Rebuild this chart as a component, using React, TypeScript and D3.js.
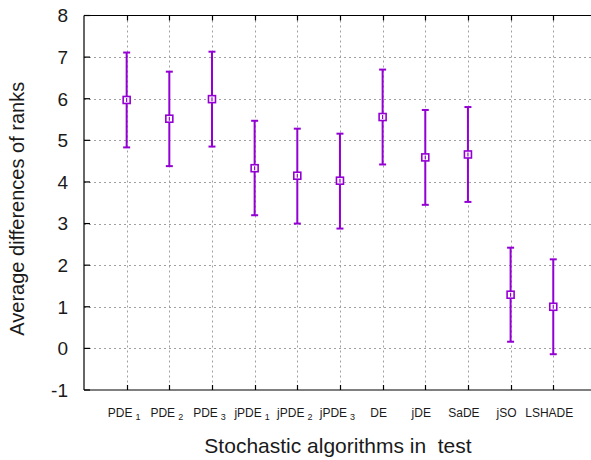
import { useEffect, useRef } from "react";
import * as d3 from "d3";

const names = ["PDE", "PDE", "PDE", "jPDE", "jPDE", "jPDE", "DE", "jDE", "SaDE", "jSO", "LSHADE"];
const subs = ["1", "2", "3", "1", "2", "3", "", "", "", "", ""];
const means = [5.97, 5.52, 5.99, 4.33, 4.15, 4.03, 5.56, 4.59, 4.66, 1.29, 1.0];
const lows = [4.83, 4.38, 4.85, 3.2, 3.0, 2.88, 4.42, 3.45, 3.52, 0.16, -0.14];
const highs = [7.11, 6.65, 7.13, 5.47, 5.28, 5.16, 6.7, 5.73, 5.8, 2.42, 2.14];
const yTicks = [-1, 0, 1, 2, 3, 4, 5, 6, 7, 8];

const W = 591;
const H = 460;
const color = "#9400d3";
const font = "Liberation Sans, Arial, sans-serif";

function App() {
  const ref = useRef<SVGSVGElement>(null);

  useEffect(() => {
    const svg = d3.select(ref.current);
    svg.selectAll("*").remove();

    const left = 84;
    const top = 15.5;
    const bottom = 390;
    const step = 42.66;

    const x = d3.scaleLinear().domain([0, 12]).range([left, left + 12 * step]);
    const y = d3.scaleLinear().domain([-1, 8]).range([bottom, top]);
    const idx = names.map((_, i) => i + 1);

    // grid
    const grid = svg.append("g").attr("stroke", "#a0a0a0").attr("stroke-width", 1).attr("stroke-dasharray", "2,3");
    yTicks.slice(1, -1).forEach((t) => {
      grid.append("line").attr("x1", left).attr("x2", W).attr("y1", Math.round(y(t)) + 0.5).attr("y2", Math.round(y(t)) + 0.5);
    });
    idx.forEach((i) => {
      grid.append("line").attr("x1", Math.round(x(i)) + 0.5).attr("x2", Math.round(x(i)) + 0.5).attr("y1", top).attr("y2", bottom);
    });

    // frame
    const frame = svg.append("g").attr("stroke", "#000").attr("stroke-width", 1.2);
    frame.append("line").attr("x1", left).attr("x2", W).attr("y1", top).attr("y2", top);
    frame.append("line").attr("x1", left).attr("x2", W).attr("y1", bottom).attr("y2", bottom);
    frame.append("line").attr("x1", left).attr("x2", left).attr("y1", top).attr("y2", bottom);

    // ticks
    yTicks.forEach((t) => {
      frame.append("line").attr("x1", left).attr("x2", left + 6).attr("y1", y(t)).attr("y2", y(t));
      svg.append("text").attr("x", 68).attr("y", y(t) + 6.8).attr("text-anchor", "end")
        .attr("font-family", font).attr("font-size", 19).attr("fill", "#1a1a1a").text(t);
    });
    idx.forEach((i) => {
      const xi = Math.round(x(i)) + 0.5;
      frame.append("line").attr("x1", xi).attr("x2", xi).attr("y1", bottom).attr("y2", bottom - 5);
      frame.append("line").attr("x1", xi).attr("x2", xi).attr("y1", top).attr("y2", top + 5);
      const hasSub = subs[i - 1] !== "";
      const t = svg.append("text").attr("x", x(i) + (hasSub ? -2.5 : -4)).attr("y", 417).attr("text-anchor", "middle")
        .attr("font-family", font).attr("font-size", 12).attr("fill", "#1a1a1a");
      t.append("tspan").text(names[i - 1]);
      if (hasSub) {
        t.append("tspan").attr("dx", 3).attr("dy", 3).attr("font-size", 9).text(subs[i - 1]);
      }
    });

    // error bars
    const g = svg.append("g").attr("stroke", color).attr("fill", "none");
    idx.forEach((i) => {
      const xi = x(i);
      g.append("line").attr("x1", xi).attr("x2", xi).attr("y1", y(lows[i - 1])).attr("y2", y(highs[i - 1])).attr("stroke-width", 2);
      [lows[i - 1], highs[i - 1]].forEach((v) => {
        g.append("line").attr("x1", xi - 3.5).attr("x2", xi + 3.5).attr("y1", y(v)).attr("y2", y(v)).attr("stroke-width", 2);
      });
      g.append("rect").attr("x", xi - 3.5).attr("y", y(means[i - 1]) - 3.5).attr("width", 7).attr("height", 7)
        .attr("fill", "#fff").attr("stroke-width", 1.6);
      g.append("line").attr("x1", xi).attr("x2", xi).attr("y1", y(means[i - 1]) - 2).attr("y2", y(means[i - 1]) + 2).attr("stroke-width", 1.2);
    });

    // titles
    svg.append("text").attr("transform", `translate(24, ${(top + bottom) / 2 + 6}) rotate(-90)`).attr("text-anchor", "middle")
      .attr("font-family", font).attr("font-size", 20).attr("fill", "#1a1a1a").text("Average differences of ranks");
    svg.append("text").attr("x", 338).attr("y", 453).attr("text-anchor", "middle").attr("xml:space", "preserve")
      .style("white-space", "pre")
      .attr("font-family", font).attr("font-size", 21).attr("fill", "#1a1a1a").text("Stochastic algorithms in  test");
  }, []);

  return (
    <svg ref={ref} width={W} height={H} style={{ position: "absolute", left: 0, top: 0, background: "#fff" }} />
  );
}

export default App;
